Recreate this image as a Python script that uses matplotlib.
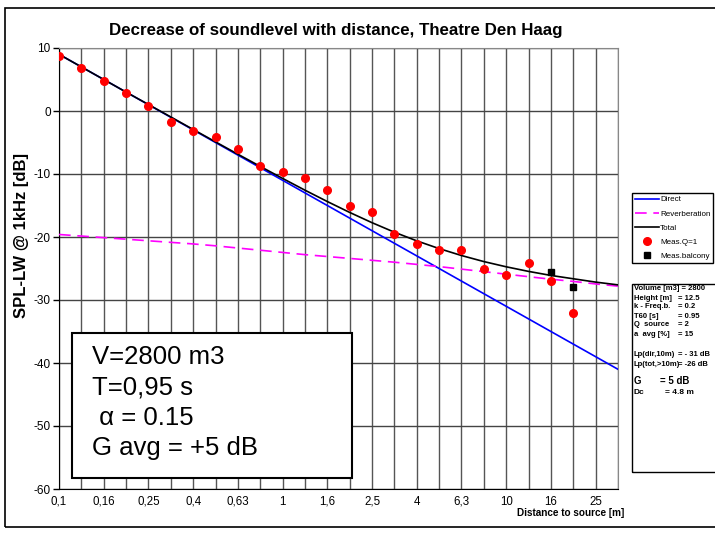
import matplotlib
matplotlib.use("Agg")
import matplotlib.pyplot as plt
from matplotlib.patches import Rectangle

plt.rcParams['font.family'] = ['Liberation Sans', 'DejaVu Sans']

# 1/3 octave distance steps [m] (category axis)
distances = ['0,1', '0,125', '0,16', '0,2', '0,25', '0,315', '0,4', '0,5', '0,63', '0,8',
             '1', '1,25', '1,6', '2', '2,5', '3,15', '4', '5', '6,3', '8',
             '10', '12,5', '16', '20', '25', '31,5']

# SPL-LW [dB]
direct = [9, 7, 5, 3, 1, -1, -3, -5, -7, -9,
          -11, -13, -15, -17, -19, -21, -23, -25, -27, -29,
          -31, -33, -35, -37, -39, -41]
reverb = [-19.6, -19.85, -20.1, -20.35, -20.6, -20.85, -21.1, -21.4, -21.75, -22.1,
          -22.45, -22.8, -23.1, -23.4, -23.7, -24.0, -24.35, -24.7, -25.1, -25.5,
          -25.9, -26.3, -26.7, -27.05, -27.45, -27.8]
total = [9.0, 7.0, 5.0, 3.0, 1.03, -0.95, -2.93, -4.9, -6.86, -8.79,
         -10.7, -12.57, -14.37, -16.1, -17.73, -19.24, -20.61, -21.84, -22.94, -23.9,
         -24.73, -25.46, -26.1, -26.63, -27.16, -27.6]
meas_q1 = [8.8, 6.8, 4.8, 2.8, 0.8, -1.7, -3.1, -4.2, -6.1, -8.7,
           -9.7, -10.6, -12.6, -15.1, -16.1, -19.6, -21.1, -22.0, -22.1, -25.0,
           -26.0, -24.1, -27.0, -32.0]
balcony_dist = ['16', '20']
balcony = [-25.5, -28.0]

W, H = 715, 533
fig = plt.figure(figsize=(W / 100, H / 100), dpi=100)
fig.patch.set_facecolor('white')

# outer chart border
fig.add_artist(Rectangle((5 / W, 1 - 527 / H), 1.0, (527 - 8) / H, transform=fig.transFigure,
                         fill=False, edgecolor='black', linewidth=1.2))

ax = fig.add_axes([59 / W, 1 - 489 / H, (618 - 59) / W, (489 - 48) / H])
x = list(range(len(distances)))

ax.plot(x, direct, color='#0000ff', lw=1.2, label='Direct', zorder=3)
ax.plot(x, reverb, color='#ff00ff', lw=1.2, ls=(0, (7, 4)), label='Reverberation', zorder=3)
ax.plot(x, total, color='black', lw=1.2, label='Total', zorder=4)
ax.plot(x[:len(meas_q1)], meas_q1, ls='none', marker='o', ms=5.5, color='#ff0000',
        label='Meas.Q=1', zorder=5)
ax.plot([distances.index(d) for d in balcony_dist], balcony, ls='none', marker='s', ms=5,
        color='black', label='Meas.balcony', zorder=5)

ax.set_xlim(0, len(distances) - 1)
ax.set_ylim(-60, 10)
ax.set_xticks(x)
ax.set_xticklabels([d if i % 2 == 0 else '' for i, d in enumerate(distances)], fontsize=8.3)
ax.set_yticks(range(-60, 11, 10))
ax.set_yticklabels([str(v) for v in range(-60, 11, 10)], fontsize=8.5)
ax.tick_params(axis='x', length=0, pad=5)
ax.tick_params(axis='y', length=4, width=1, pad=2)
ax.grid(axis='x', color='#555555', lw=1)
ax.grid(axis='y', color='#444444', lw=1)
ax.set_axisbelow(True)
for s in ['top', 'right']:
    ax.spines[s].set_color('#888888')
for s in ['left', 'bottom']:
    ax.spines[s].set_color('black')

fig.text(336 / W, 1 - 30 / H, 'Decrease of soundlevel with distance, Theatre Den Haag',
         ha='center', va='center', fontsize=12.2, fontweight='bold')
fig.text(22 / W, 1 - 236 / H, 'SPL-LW @ 1kHz [dB]', rotation=90, ha='center', va='center',
         fontsize=12, fontweight='bold')
fig.text(517 / W, 1 - 513 / H, 'Distance to source [m]', ha='left', va='center',
         fontsize=7.2, fontweight='bold')

# parameter box inside the plot
fig.add_artist(Rectangle((72 / W, 1 - 478 / H), (352 - 72) / W, (478 - 333) / H,
                         transform=fig.transFigure, facecolor='white',
                         edgecolor='black', linewidth=1.5))
box_lines = ['V=2800 m3', 'T=0,95 s', ' α = 0.15', 'G avg = +5 dB']
for i, t in enumerate(box_lines):
    fig.text(92 / W, 1 - (357 + 30.3 * i) / H, t, ha='left', va='center', fontsize=18.5)

# legend
fig.legend(loc='upper left', bbox_to_anchor=(632 / W, 1 - 193 / H), fontsize=5.8,
           frameon=True, fancybox=False, edgecolor='black', framealpha=1,
           borderaxespad=0, handlelength=3.0, handletextpad=0.15, labelspacing=0.8,
           borderpad=0.35)

# input/result panel
fig.add_artist(Rectangle((632 / W, 1 - 472 / H), 1.0, (472 - 284) / H,
                         transform=fig.transFigure, fill=False, edgecolor='black', lw=1))
panel = [('Volume [m3] = 2800', '', 288), ('Height [m]', '= 12.5', 298),
         ('k - Freq.b.', '= 0.2', 307), ('T60 [s]', '= 0.95', 316),
         ('Q  source', '= 2', 325), ('a  avg [%]', '= 15', 334),
         ('Lp(dir,10m)', '= - 31 dB', 355), ('Lp(tot,>10m)', '= -26 dB', 364)]
for lab, val, yy in panel:
    fig.text(634 / W, 1 - yy / H, lab, ha='left', va='center', fontsize=5.5, fontweight='bold')
    if val:
        fig.text(678 / W, 1 - yy / H, val, ha='left', va='center', fontsize=5.5,
                 fontweight='bold')
fig.text(634 / W, 1 - 381 / H, 'G', ha='left', va='center', fontsize=7, fontweight='bold')
fig.text(660 / W, 1 - 381 / H, '= 5 dB', ha='left', va='center', fontsize=7, fontweight='bold')
fig.text(634 / W, 1 - 392 / H, 'Dc', ha='left', va='center', fontsize=6, fontweight='bold')
fig.text(665 / W, 1 - 392 / H, '= 4.8 m', ha='left', va='center', fontsize=6, fontweight='bold')

fig.savefig('out.png', dpi=100)
